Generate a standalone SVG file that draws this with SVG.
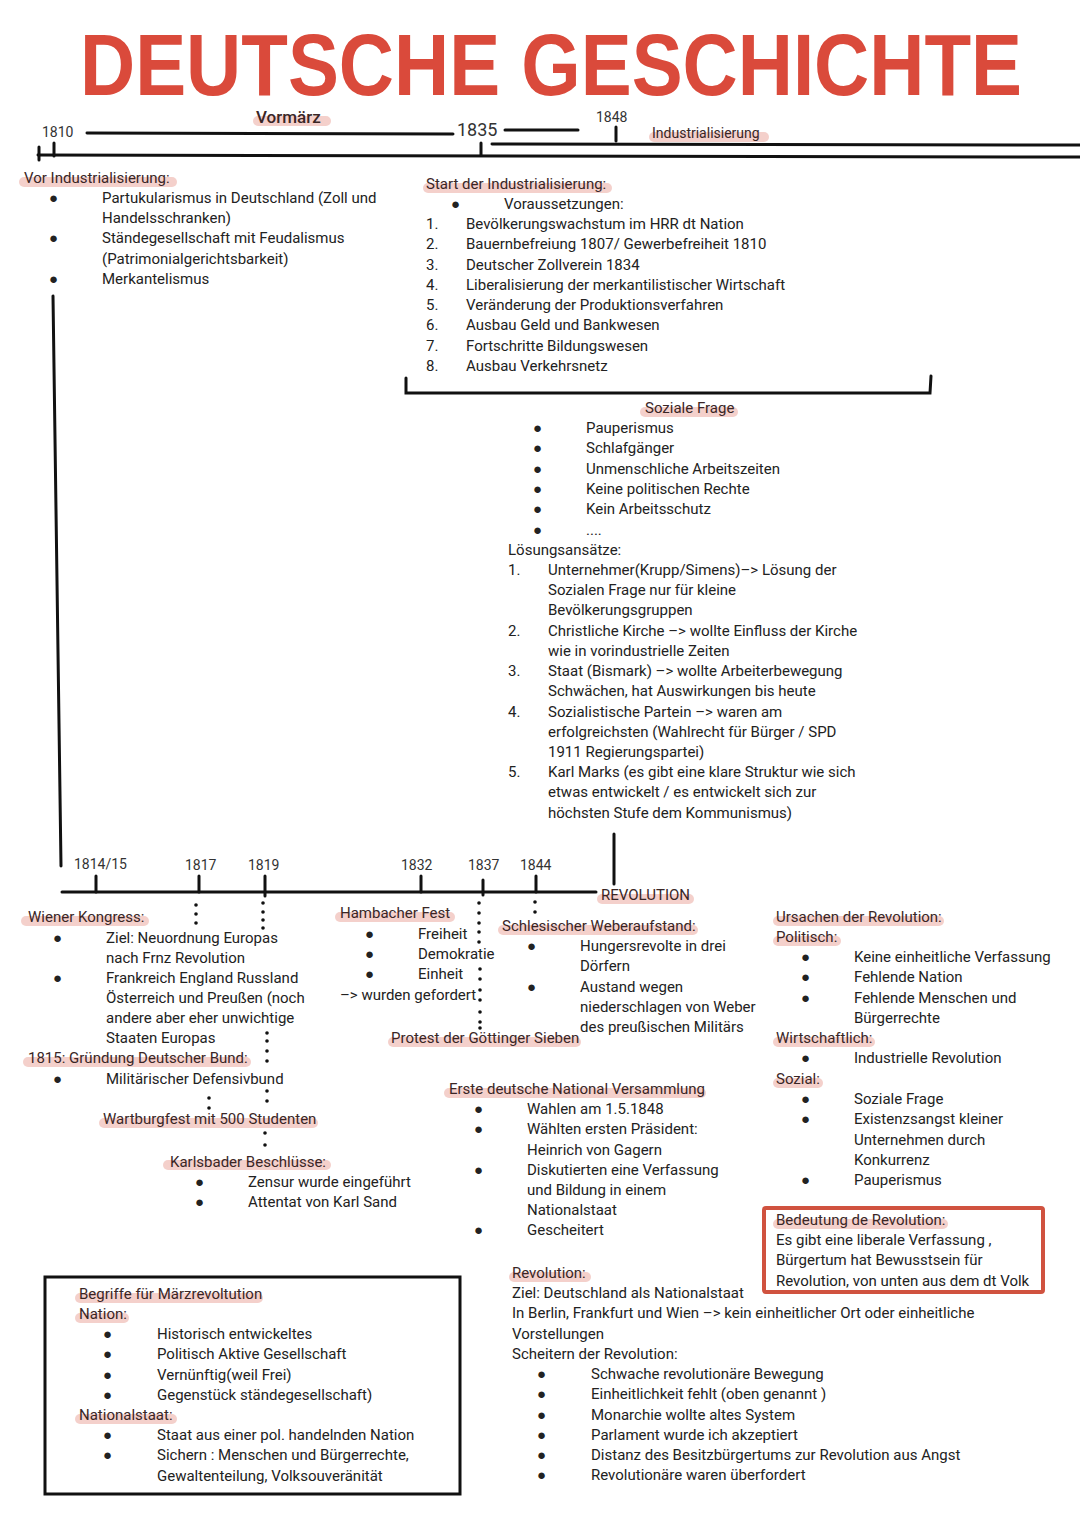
<svg xmlns="http://www.w3.org/2000/svg" width="1080" height="1526" viewBox="0 0 1080 1526">
<style>
text{font-family:Roboto,"Liberation Sans",sans-serif;font-size:15px;fill:#222}
.h{fill:#3a2626}
.yr{font-size:14px;fill:#333}
.hl{stroke:#eeb2aa;stroke-width:10;stroke-linecap:round;opacity:0.6}
.ln{stroke:#111;stroke-width:3;fill:none;stroke-linecap:round}
.dot{fill:#111}
.title{font-family:"Liberation Sans",Arial,sans-serif;font-weight:bold;font-size:87px;fill:#da4a3b}
</style>
<rect width="1080" height="1526" fill="#fff"/>

<g id="title">
<text class="title" x="80" y="95" textLength="942" lengthAdjust="spacingAndGlyphs">DEUTSCHE GESCHICHTE</text>
</g>

<g id="highlights">
<line class="hl" x1="258" y1="121" x2="326" y2="121"/>
<line class="hl" x1="654" y1="137" x2="764" y2="137"/>
<line class="hl" x1="24" y1="182" x2="172" y2="182"/>
<line class="hl" x1="428" y1="188" x2="607" y2="188"/>
<line class="hl" x1="645" y1="412" x2="733" y2="412"/>
<line class="hl" x1="602" y1="899" x2="689" y2="899"/>
<line class="hl" x1="26" y1="921" x2="144" y2="921"/>
<line class="hl" x1="340" y1="917" x2="450" y2="917"/>
<line class="hl" x1="503" y1="930" x2="693" y2="930"/>
<line class="hl" x1="393" y1="1042" x2="576" y2="1042"/>
<line class="hl" x1="28" y1="1062" x2="246" y2="1062"/>
<line class="hl" x1="104" y1="1123" x2="313" y2="1123"/>
<line class="hl" x1="168" y1="1165" x2="326" y2="1165"/>
<line class="hl" x1="449" y1="1093" x2="701" y2="1093"/>
<line class="hl" x1="514" y1="1277" x2="586" y2="1277"/>
<line class="hl" x1="778" y1="921" x2="939" y2="921"/>
<line class="hl" x1="778" y1="941" x2="836" y2="941"/>
<line class="hl" x1="778" y1="1042" x2="870" y2="1042"/>
<line class="hl" x1="778" y1="1083" x2="818" y2="1083"/>
<line class="hl" x1="778" y1="1224" x2="943" y2="1224"/>
<line class="hl" x1="80" y1="1298" x2="258" y2="1298"/>
<line class="hl" x1="80" y1="1318" x2="124" y2="1318"/>
<line class="hl" x1="80" y1="1419" x2="172" y2="1419"/>
</g>

<g id="connectors">
<line class="ln" x1="87" y1="133" x2="453" y2="134"/>
<line class="ln" x1="505" y1="130" x2="578" y2="130"/>
<line class="ln" x1="616" y1="127" x2="616" y2="141"/>
<line class="ln" x1="492" y1="144" x2="1080" y2="145"/>
<line class="ln" x1="38" y1="155" x2="1080" y2="157"/>
<line class="ln" x1="39" y1="147" x2="39" y2="160"/>
<line class="ln" x1="54" y1="143" x2="54" y2="156"/>
<line class="ln" x1="481" y1="143" x2="481" y2="155"/>
<line class="ln" x1="53" y1="296" x2="61" y2="866"/>
<path class="ln" d="M406 378 L406 393 L930 393 L931 376"/>
<line class="ln" x1="614" y1="834" x2="614" y2="884"/>
<line class="ln" x1="62" y1="892" x2="596" y2="892"/>
<line class="ln" x1="96" y1="876" x2="96" y2="892"/>
<line class="ln" x1="199" y1="876" x2="199" y2="892"/>
<line class="ln" x1="265" y1="876" x2="265" y2="896"/>
<line class="ln" x1="421" y1="876" x2="421" y2="892"/>
<line class="ln" x1="483" y1="880" x2="483" y2="895"/>
<line class="ln" x1="536" y1="876" x2="536" y2="892"/>
<rect x="764" y="1208" width="279" height="84" fill="none" stroke="#d0523f" stroke-width="4" rx="2"/>
<rect x="45" y="1277" width="415" height="217" fill="none" stroke="#111" stroke-width="3"/>
<g class="dot">
<circle cx="196" cy="905" r="1.8"/><circle cx="196" cy="914" r="1.8"/><circle cx="196" cy="923" r="1.8"/>
<circle cx="263" cy="903" r="1.8"/><circle cx="263" cy="912" r="1.8"/><circle cx="263" cy="920" r="1.8"/><circle cx="263" cy="928" r="1.8"/>
<circle cx="267" cy="1033" r="1.8"/><circle cx="267" cy="1041" r="1.8"/><circle cx="267" cy="1051" r="1.8"/><circle cx="267" cy="1061" r="1.8"/>
<circle cx="267" cy="1091" r="1.8"/><circle cx="267" cy="1101" r="1.8"/>
<circle cx="209" cy="1098" r="1.8"/><circle cx="209" cy="1108" r="1.8"/>
<circle cx="265" cy="1133" r="1.8"/><circle cx="265" cy="1145" r="1.8"/>
<circle cx="479" cy="903" r="1.8"/><circle cx="479" cy="913" r="1.8"/><circle cx="479" cy="923" r="1.8"/><circle cx="479" cy="932" r="1.8"/><circle cx="479" cy="942" r="1.8"/>
<circle cx="480" cy="969" r="1.8"/><circle cx="480" cy="979" r="1.8"/><circle cx="480" cy="990" r="1.8"/><circle cx="480" cy="1000" r="1.8"/><circle cx="480" cy="1012" r="1.8"/><circle cx="480" cy="1022" r="1.8"/><circle cx="480" cy="1028" r="1.8"/>
<circle cx="535" cy="902" r="1.8"/><circle cx="535" cy="912" r="1.8"/>
</g>
</g>

<g id="timeline-top">
<text class="yr" x="42" y="137">1810</text>
<text class="h" x="256" y="123" style="font-size:17px;font-weight:500">Vormärz</text>
<text x="457" y="136" style="font-size:18px;fill:#333">1835</text>
<text class="yr" x="596" y="122">1848</text>
<text class="h" x="652" y="138" style="font-size:14px">Industrialisierung</text>
</g>

<g id="vor-industrialisierung">
<text class="h" x="24" y="183">Vor Industrialisierung:</text>
<text x="49" y="203">●</text><text x="102" y="203">Partukularismus in Deutschland (Zoll und</text>
<text x="102" y="223">Handelsschranken)</text>
<text x="49" y="243">●</text><text x="102" y="243">Ständegesellschaft mit Feudalismus</text>
<text x="102" y="264">(Patrimonialgerichtsbarkeit)</text>
<text x="49" y="284">●</text><text x="102" y="284">Merkantelismus</text>
</g>

<g id="start-industrialisierung">
<text class="h" x="426" y="189">Start der Industrialisierung:</text>
<text x="451" y="209">●</text><text x="504" y="209">Voraussetzungen:</text>
<text x="426" y="229">1.</text><text x="466" y="229">Bevölkerungswachstum im HRR dt Nation</text>
<text x="426" y="249">2.</text><text x="466" y="249">Bauernbefreiung 1807/ Gewerbefreiheit 1810</text>
<text x="426" y="270">3.</text><text x="466" y="270">Deutscher Zollverein 1834</text>
<text x="426" y="290">4.</text><text x="466" y="290">Liberalisierung der merkantilistischer Wirtschaft</text>
<text x="426" y="310">5.</text><text x="466" y="310">Veränderung der Produktionsverfahren</text>
<text x="426" y="330">6.</text><text x="466" y="330">Ausbau Geld und Bankwesen</text>
<text x="426" y="351">7.</text><text x="466" y="351">Fortschritte Bildungswesen</text>
<text x="426" y="371">8.</text><text x="466" y="371">Ausbau Verkehrsnetz</text>
</g>

<g id="soziale-frage">
<text class="h" x="645" y="413">Soziale Frage</text>
<text x="533" y="433">●</text><text x="586" y="433">Pauperismus</text>
<text x="533" y="453">●</text><text x="586" y="453">Schlafgänger</text>
<text x="533" y="474">●</text><text x="586" y="474">Unmenschliche Arbeitszeiten</text>
<text x="533" y="494">●</text><text x="586" y="494">Keine politischen Rechte</text>
<text x="533" y="514">●</text><text x="586" y="514">Kein Arbeitsschutz</text>
<text x="533" y="535">●</text><text x="586" y="535">....</text>
<text x="508" y="555">Lösungsansätze:</text>
<text x="508" y="575">1.</text><text x="548" y="575">Unternehmer(Krupp/Simens)–&gt; Lösung der</text>
<text x="548" y="595">Sozialen Frage nur für kleine</text>
<text x="548" y="615">Bevölkerungsgruppen</text>
<text x="508" y="636">2.</text><text x="548" y="636">Christliche Kirche –&gt; wollte Einfluss der Kirche</text>
<text x="548" y="656">wie in vorindustrielle Zeiten</text>
<text x="508" y="676">3.</text><text x="548" y="676">Staat (Bismark) –&gt; wollte Arbeiterbewegung</text>
<text x="548" y="696">Schwächen, hat Auswirkungen bis heute</text>
<text x="508" y="717">4.</text><text x="548" y="717">Sozialistische Partein –&gt; waren am</text>
<text x="548" y="737">erfolgreichsten (Wahlrecht für Bürger / SPD</text>
<text x="548" y="757">1911 Regierungspartei)</text>
<text x="508" y="777">5.</text><text x="548" y="777">Karl Marks (es gibt eine klare Struktur wie sich</text>
<text x="548" y="797">etwas entwickelt / es entwickelt sich zur</text>
<text x="548" y="818">höchsten Stufe dem Kommunismus)</text>
</g>

<g id="timeline-bottom">
<text class="yr" x="74" y="869">1814/15</text>
<text class="yr" x="185" y="870">1817</text>
<text class="yr" x="248" y="870">1819</text>
<text class="yr" x="401" y="870">1832</text>
<text class="yr" x="468" y="870">1837</text>
<text class="yr" x="520" y="870">1844</text>
<text class="h" x="601" y="900">REVOLUTION</text>
</g>

<g id="wiener-kongress">
<text class="h" x="28" y="922">Wiener Kongress:</text>
<text x="53" y="943">●</text><text x="106" y="943">Ziel: Neuordnung Europas</text>
<text x="106" y="963">nach Frnz Revolution</text>
<text x="53" y="983">●</text><text x="106" y="983">Frankreich England Russland</text>
<text x="106" y="1003">Österreich und Preußen (noch</text>
<text x="106" y="1023">andere aber eher unwichtige</text>
<text x="106" y="1043">Staaten Europas</text>
</g>

<g id="deutscher-bund">
<text class="h" x="28" y="1063">1815: Gründung Deutscher Bund:</text>
<text x="53" y="1084">●</text><text x="106" y="1084">Militärischer Defensivbund</text>
</g>

<g id="wartburgfest">
<text class="h" x="103" y="1124">Wartburgfest mit 500 Studenten</text>
</g>

<g id="karlsbader">
<text class="h" x="170" y="1167">Karlsbader Beschlüsse:</text>
<text x="195" y="1187">●</text><text x="248" y="1187">Zensur wurde eingeführt</text>
<text x="195" y="1207">●</text><text x="248" y="1207">Attentat von Karl Sand</text>
</g>

<g id="hambacher-fest">
<text class="h" x="340" y="918">Hambacher Fest</text>
<text x="365" y="939">●</text><text x="418" y="939">Freiheit</text>
<text x="365" y="959">●</text><text x="418" y="959">Demokratie</text>
<text x="365" y="979">●</text><text x="418" y="979">Einheit</text>
<text x="340" y="1000">–&gt; wurden gefordert</text>
</g>

<g id="goettinger-sieben">
<text class="h" x="391" y="1043">Protest der Göttinger Sieben</text>
</g>

<g id="weberaufstand">
<text class="h" x="502" y="931">Schlesischer Weberaufstand:</text>
<text x="527" y="951">●</text><text x="580" y="951">Hungersrevolte in drei</text>
<text x="580" y="971">Dörfern</text>
<text x="527" y="992">●</text><text x="580" y="992">Austand wegen</text>
<text x="580" y="1012">niederschlagen von Weber</text>
<text x="580" y="1032">des preußischen Militärs</text>
</g>

<g id="nationalversammlung">
<text class="h" x="449" y="1094">Erste deutsche National Versammlung</text>
<text x="474" y="1114">●</text><text x="527" y="1114">Wahlen am 1.5.1848</text>
<text x="474" y="1134">●</text><text x="527" y="1134">Wählten ersten Präsident:</text>
<text x="527" y="1155">Heinrich von Gagern</text>
<text x="474" y="1175">●</text><text x="527" y="1175">Diskutierten eine Verfassung</text>
<text x="527" y="1195">und Bildung in einem</text>
<text x="527" y="1215">Nationalstaat</text>
<text x="474" y="1235">●</text><text x="527" y="1235">Gescheitert</text>
</g>

<g id="revolution">
<text class="h" x="512" y="1278">Revolution:</text>
<text x="512" y="1298">Ziel: Deutschland als Nationalstaat</text>
<text x="512" y="1318">In Berlin, Frankfurt und Wien –&gt; kein einheitlicher Ort oder einheitliche</text>
<text x="512" y="1339">Vorstellungen</text>
<text x="512" y="1359">Scheitern der Revolution:</text>
<text x="537" y="1379">●</text><text x="591" y="1379">Schwache revolutionäre Bewegung</text>
<text x="537" y="1399">●</text><text x="591" y="1399">Einheitlichkeit fehlt (oben genannt )</text>
<text x="537" y="1420">●</text><text x="591" y="1420">Monarchie wollte altes System</text>
<text x="537" y="1440">●</text><text x="591" y="1440">Parlament wurde ich akzeptiert</text>
<text x="537" y="1460">●</text><text x="591" y="1460">Distanz des Besitzbürgertums zur Revolution aus Angst</text>
<text x="537" y="1480">●</text><text x="591" y="1480">Revolutionäre waren überfordert</text>
</g>

<g id="ursachen">
<text class="h" x="776" y="922">Ursachen der Revolution:</text>
<text class="h" x="776" y="942">Politisch:</text>
<text x="801" y="962">●</text><text x="854" y="962">Keine einheitliche Verfassung</text>
<text x="801" y="982">●</text><text x="854" y="982">Fehlende Nation</text>
<text x="801" y="1003">●</text><text x="854" y="1003">Fehlende Menschen und</text>
<text x="854" y="1023">Bürgerrechte</text>
<text class="h" x="776" y="1043">Wirtschaftlich:</text>
<text x="801" y="1063">●</text><text x="854" y="1063">Industrielle Revolution</text>
<text class="h" x="776" y="1084">Sozial:</text>
<text x="801" y="1104">●</text><text x="854" y="1104">Soziale Frage</text>
<text x="801" y="1124">●</text><text x="854" y="1124">Existenzsangst kleiner</text>
<text x="854" y="1145">Unternehmen durch</text>
<text x="854" y="1165">Konkurrenz</text>
<text x="801" y="1185">●</text><text x="854" y="1185">Pauperismus</text>
</g>

<g id="bedeutung">
<text class="h" x="776" y="1225">Bedeutung de Revolution:</text>
<text x="776" y="1245">Es gibt eine liberale Verfassung ,</text>
<text x="776" y="1265">Bürgertum hat Bewusstsein für</text>
<text x="776" y="1286">Revolution, von unten aus dem dt Volk</text>
</g>

<g id="begriffe">
<text class="h" x="79" y="1299">Begriffe für Märzrevoltution</text>
<text class="h" x="79" y="1319">Nation:</text>
<text x="103" y="1339">●</text><text x="157" y="1339">Historisch entwickeltes</text>
<text x="103" y="1359">●</text><text x="157" y="1359">Politisch Aktive Gesellschaft</text>
<text x="103" y="1380">●</text><text x="157" y="1380">Vernünftig(weil Frei)</text>
<text x="103" y="1400">●</text><text x="157" y="1400">Gegenstück ständegesellschaft)</text>
<text class="h" x="79" y="1420">Nationalstaat:</text>
<text x="103" y="1440">●</text><text x="157" y="1440">Staat aus einer pol. handelnden Nation</text>
<text x="103" y="1460">●</text><text x="157" y="1460">Sichern : Menschen und Bürgerrechte,</text>
<text x="157" y="1481">Gewaltenteilung, Volksouveränität</text>
</g>
</svg>
